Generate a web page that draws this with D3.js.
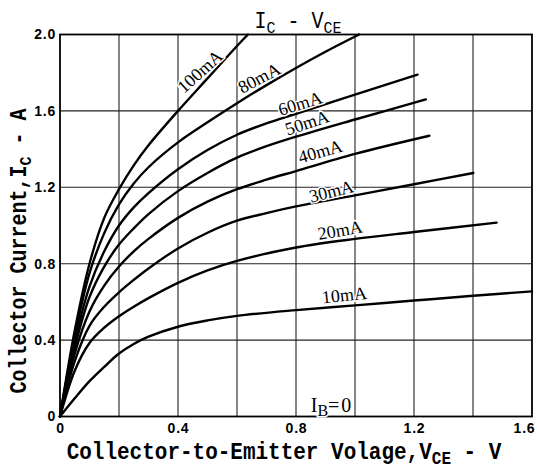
<!DOCTYPE html>
<html>
<head>
<meta charset="utf-8">
<script src="https://cdn.jsdelivr.net/npm/d3@7"></script>
<style>
  html, body { margin: 0; padding: 0; background: #fff; }
  svg { display: block; }
</style>
</head>
<body>
<svg id="chart" width="537" height="472"></svg>
<script>
// ---- Data ----
const seriesNames = ["100mA", "80mA", "60mA", "50mA", "40mA", "30mA", "20mA", "10mA"];

const vce100 = [0, 0.05, 0.1, 0.15, 0.2, 0.25, 0.3, 0.4, 0.5, 0.6, 0.637];
const ic100  = [0, 0.45, 0.80, 1.04, 1.19, 1.315, 1.42, 1.60, 1.77, 1.94, 2.00];

const vce80 = [0, 0.05, 0.1, 0.15, 0.2, 0.25, 0.3, 0.4, 0.5, 0.6, 0.7, 0.8, 0.9, 1.014];
const ic80  = [0, 0.42, 0.75, 0.96, 1.11, 1.22, 1.305, 1.435, 1.54, 1.64, 1.735, 1.825, 1.91, 2.00];

const vce60 = [0, 0.05, 0.1, 0.15, 0.2, 0.25, 0.3, 0.4, 0.5, 0.6, 0.7, 0.8, 1.0, 1.212];
const ic60  = [0, 0.39, 0.68, 0.865, 1.00, 1.095, 1.17, 1.295, 1.395, 1.475, 1.535, 1.585, 1.685, 1.79];

const vce50 = [0, 0.05, 0.1, 0.15, 0.2, 0.25, 0.3, 0.4, 0.5, 0.6, 0.7, 0.8, 1.0, 1.24];
const ic50  = [0, 0.36, 0.625, 0.785, 0.90, 0.985, 1.06, 1.18, 1.275, 1.355, 1.415, 1.465, 1.555, 1.66];

const vce40 = [0, 0.05, 0.1, 0.15, 0.2, 0.25, 0.3, 0.4, 0.5, 0.6, 0.7, 0.8, 1.0, 1.252];
const ic40  = [0, 0.33, 0.55, 0.685, 0.785, 0.865, 0.93, 1.04, 1.125, 1.19, 1.24, 1.285, 1.375, 1.47];

const vce30 = [0, 0.05, 0.1, 0.15, 0.2, 0.25, 0.3, 0.4, 0.5, 0.6, 0.7, 0.8, 1.0, 1.2, 1.401];
const ic30  = [0, 0.29, 0.475, 0.575, 0.65, 0.715, 0.775, 0.88, 0.962, 1.025, 1.065, 1.10, 1.158, 1.216, 1.275];

const vce20 = [0, 0.05, 0.1, 0.15, 0.2, 0.25, 0.3, 0.4, 0.5, 0.6, 0.8, 1.0, 1.2, 1.48];
const ic20  = [0, 0.24, 0.385, 0.465, 0.525, 0.575, 0.62, 0.70, 0.765, 0.815, 0.885, 0.93, 0.966, 1.015];

const vce10 = [0, 0.05, 0.1, 0.15, 0.2, 0.25, 0.3, 0.4, 0.5, 0.6, 0.8, 1.0, 1.2, 1.4, 1.6];
const ic10  = [0, 0.095, 0.185, 0.26, 0.33, 0.38, 0.418, 0.47, 0.503, 0.527, 0.557, 0.582, 0.607, 0.632, 0.655];

const xTicks = [0, 0.4, 0.8, 1.2, 1.6];
const xTickLabels = ["0", "0.4", "0.8", "1.2", "1.6"];
const yTicks = [0, 0.4, 0.8, 1.2, 1.6, 2.0];
const yTickLabels = ["0", "0.4", "0.8", "1.2", "1.6", "2.0"];
const xGrid = [0.2, 0.4, 0.6, 0.8, 1.0, 1.2, 1.4];
const yGrid = [0.4, 0.8, 1.2, 1.6];

// label anchor points (data coords, baseline centre) and angles
const labelV = [0.488, 0.685, 0.820, 0.844, 0.888, 0.925, 0.953, 0.966];
const labelI = [1.783, 1.744, 1.608, 1.508, 1.357, 1.148, 0.944, 0.604];
const labelAngle = [-42, -28, -17, -18, -16, -14, -10, -6];

// ---- Build ----
const svg = d3.select("#chart");
const W = 537, H = 472;
const margin = { left: 60, right: 5, top: 34.5, bottom: 55.5 };

const x = d3.scaleLinear().domain([0, 1.6]).range([margin.left, W - margin.right]);
const y = d3.scaleLinear().domain([0, 2.0]).range([H - margin.bottom, margin.top]);

svg.append("rect").attr("width", W).attr("height", H).attr("fill", "#fff");

// grid
const grid = svg.append("g");
grid.selectAll("line.vx").data(xGrid).enter().append("line")
  .attr("x1", d => x(d)).attr("x2", d => x(d))
  .attr("y1", y(0)).attr("y2", y(2))
  .attr("stroke", "#222").attr("stroke-width", 1.1);
grid.selectAll("line.hy").data(yGrid).enter().append("line")
  .attr("x1", x(0)).attr("x2", x(1.6))
  .attr("y1", d => y(d)).attr("y2", d => y(d))
  .attr("stroke", "#222").attr("stroke-width", 1.1);

// frame
svg.append("rect")
  .attr("x", x(0)).attr("y", y(2))
  .attr("width", x(1.6) - x(0)).attr("height", y(0) - y(2))
  .attr("fill", "none").attr("stroke", "#000").attr("stroke-width", 1.8);

// axes (tick labels only, through d3 axes)
const xAxis = d3.axisBottom(x).tickValues(xTicks).tickSize(0).tickPadding(7)
  .tickFormat((d, i) => xTickLabels[i]);
const gx = svg.append("g").attr("transform", `translate(0,${y(0)})`).call(xAxis);
gx.select(".domain").remove();
gx.selectAll("text")
  .attr("font-family", "Liberation Sans, Arial, sans-serif")
  .attr("font-weight", "bold").attr("font-size", 14).attr("fill", "#000")
  .attr("letter-spacing", 0.8)
  .attr("dx", (d, i) => i === xTicks.length - 1 ? -8 : 0);

const yAxis = d3.axisLeft(y).tickValues(yTicks).tickSize(0).tickPadding(4)
  .tickFormat((d, i) => yTickLabels[i]);
const gy = svg.append("g").attr("transform", `translate(${x(0)},0)`).call(yAxis);
gy.select(".domain").remove();
gy.selectAll("text")
  .attr("font-family", "Liberation Sans, Arial, sans-serif")
  .attr("font-weight", "bold").attr("font-size", 14).attr("fill", "#000")
  .attr("letter-spacing", 0.8);

// curves
const seriesV = [vce100, vce80, vce60, vce50, vce40, vce30, vce20, vce10];
const seriesI = [ic100, ic80, ic60, ic50, ic40, ic30, ic20, ic10];
const series = seriesNames.map((n, k) => ({
  name: n,
  pts: seriesV[k].map((v, j) => [v, seriesI[k][j]])
}));

const line = d3.line().x(d => x(d[0])).y(d => y(d[1])).curve(d3.curveCatmullRom.alpha(0.5));
svg.append("g").selectAll("path").data(series).enter().append("path")
  .attr("d", d => line(d.pts))
  .attr("fill", "none").attr("stroke", "#000").attr("stroke-width", 2.4)
  .attr("stroke-linecap", "round").attr("stroke-linejoin", "round");

// curve labels
svg.append("g").selectAll("text").data(seriesNames).enter().append("text")
  .attr("transform", (d, i) => `translate(${x(labelV[i])},${y(labelI[i])}) rotate(${labelAngle[i]})`)
  .attr("text-anchor", "middle")
  .attr("font-family", "Liberation Serif, Times New Roman, serif")
  .attr("font-size", 18).attr("fill", "#000")
  .attr("stroke", "#fff").attr("stroke-width", 3).attr("paint-order", "stroke")
  .text(d => d);

// IB = 0 note
const ib = svg.append("text")
  .attr("x", x(0.85)).attr("y", y(0.025))
  .attr("font-family", "Liberation Serif, Times New Roman, serif")
  .attr("font-size", 20).attr("fill", "#000")
  .attr("stroke", "#fff").attr("stroke-width", 3).attr("paint-order", "stroke");
ib.append("tspan").text("I");
ib.append("tspan").attr("dy", 4).attr("font-size", 16).text("B");
ib.append("tspan").attr("dy", -4).attr("letter-spacing", 2).text("=0");

// title
const title = svg.append("g").attr("transform", "translate(298,28) scale(1,1.15)")
  .append("text").attr("text-anchor", "middle")
  .attr("font-family", "Liberation Mono, Courier New, monospace")
  .attr("font-size", 20).attr("fill", "#000");
title.append("tspan").text("I");
title.append("tspan").attr("dy", 4).attr("font-size", 15).text("C");
title.append("tspan").attr("dy", -4).text(" - V");
title.append("tspan").attr("dy", 4).attr("font-size", 15).text("CE");

// x axis title
const xt = svg.append("g").attr("transform", "translate(284,459) scale(1,1.15)")
  .append("text").attr("text-anchor", "middle")
  .attr("font-family", "Liberation Mono, Courier New, monospace")
  .attr("font-weight", "bold").attr("font-size", 21).attr("fill", "#000");
xt.append("tspan").text("Collector-to-Emitter Volage,V");
xt.append("tspan").attr("dy", 4).attr("font-size", 16).text("CE");
xt.append("tspan").attr("dy", -4).text(" - V");

// y axis title
const yt = svg.append("g").attr("transform", "translate(26,251) rotate(-90) scale(1,1.15)")
  .append("text").attr("text-anchor", "middle")
  .attr("font-family", "Liberation Mono, Courier New, monospace")
  .attr("font-weight", "bold").attr("font-size", 20).attr("fill", "#000");
yt.append("tspan").text("Collector Current,I");
yt.append("tspan").attr("dy", 4).attr("font-size", 15).text("C");
yt.append("tspan").attr("dy", -4).text(" - A");
</script>
</body>
</html>
